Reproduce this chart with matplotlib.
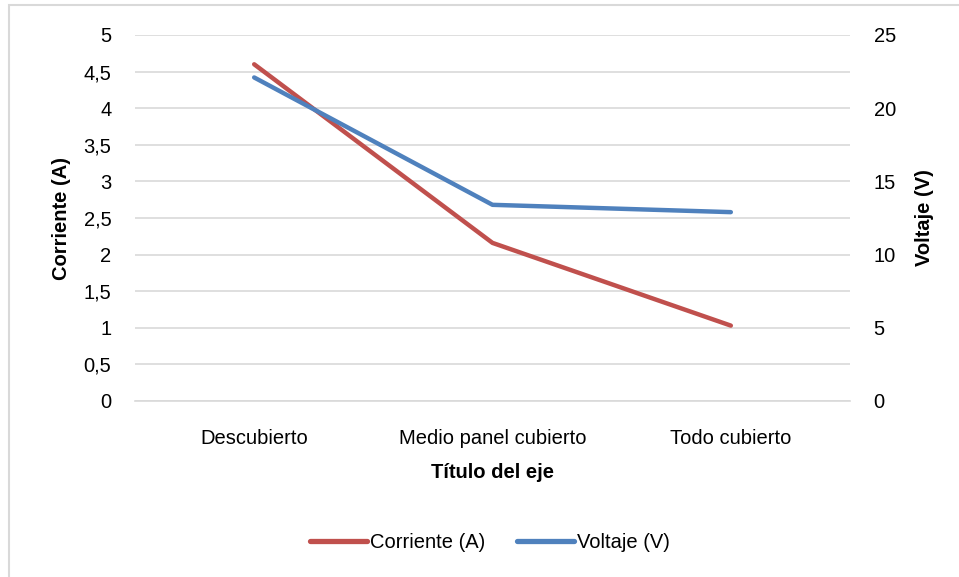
import matplotlib.pyplot as plt
from matplotlib.patches import Rectangle
from matplotlib.ticker import FuncFormatter

plt.rcParams['font.family'] = ['Liberation Sans Narrow', 'Liberation Sans', 'DejaVu Sans']

estados = ["Descubierto", "Medio panel cubierto", "Todo cubierto"]
corriente = [4.60, 2.16, 1.03]
voltaje = [22.1, 13.4, 12.9]

rojo = "#C0504D"
azul = "#4F81BD"
gris = "#D9D9D9"
fs = 14.5

fig = plt.figure(figsize=(9.59, 5.77), dpi=100)
ax = fig.add_axes([135/959, 1 - 401/577, 715/959, 366/577])
ax2 = ax.twinx()

x = range(len(estados))
l1, = ax.plot(x, corriente, color=rojo, lw=3.2, solid_capstyle='round', label="Corriente (A)")
l2, = ax2.plot(x, voltaje, color=azul, lw=3.2, solid_capstyle='round', label="Voltaje (V)")

ax.set_xlim(-0.5, 2.5)
ax.set_ylim(0, 5)
ax2.set_ylim(0, 25)
ax.set_yticks([i * 0.5 for i in range(11)])
ax2.set_yticks(range(0, 26, 5))
ax.yaxis.set_major_formatter(FuncFormatter(lambda v, p: f"{v:g}".replace(".", ",")))
ax.set_xticks(list(x))
ax.set_xticklabels(estados)

ax.grid(axis='y', color=gris, lw=1.2)
ax.set_axisbelow(True)
for a in (ax, ax2):
    for s in a.spines.values():
        s.set_visible(False)
    a.tick_params(length=0, labelsize=fs)
ax.spines['bottom'].set_visible(True)
ax.spines['bottom'].set_color(gris)
ax.spines['bottom'].set_linewidth(1.2)
ax.tick_params(axis='y', pad=17)
ax.tick_params(axis='x', pad=20)
ax2.tick_params(axis='y', pad=17)

ax.set_ylabel("Corriente (A)", fontsize=fs, fontweight='bold', labelpad=9)
ax2.set_ylabel("Voltaje (V)", fontsize=fs, fontweight='bold', labelpad=14)
ax.set_xlabel("Título del eje", fontsize=fs, fontweight='bold', labelpad=11)

fig.legend(handles=[l1, l2], loc='center', bbox_to_anchor=(490/959, 1 - 543/577),
           ncol=2, frameon=False, fontsize=fs, handlelength=2.8,
           handletextpad=0.15, columnspacing=1.6)
for h in fig.legends[0].get_lines():
    h.set_linewidth(3.8)

# chart area frame
fig.patches.append(Rectangle((9/959, -0.1), 1.2, 1.1 - 5/577, transform=fig.transFigure,
                             fill=False, edgecolor=gris, lw=1.5))

fig.savefig("out.png", dpi=100)
